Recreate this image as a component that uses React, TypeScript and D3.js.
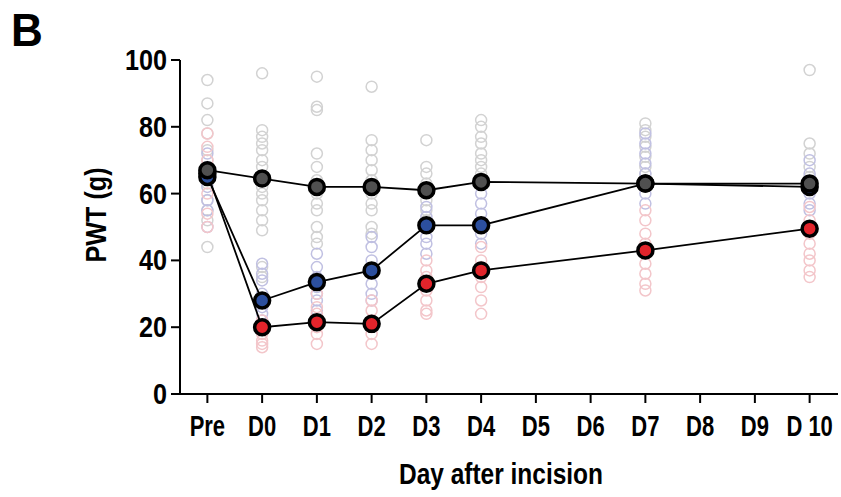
import * as d3 from "d3";

const dayLabels = ["Pre", "D0", "D1", "D2", "D3", "D4", "D5", "D6", "D7", "D8", "D9", "D10"];
const measuredDays = ["Pre", "D0", "D1", "D2", "D3", "D4", "D7", "D10"];
const yTicks = [0, 20, 40, 60, 80, 100];

// group means
const shamMean = [67, 64.5, 62, 62, 61, 63.5, 63, 63];
const blueMean = [65, 28, 33.5, 37, 50.5, 50.5, 63, 62];
const redMean = [66, 20, 21.5, 21, 33, 37, 43, 49.5];

// individual animals, one array per measured day
const shamPts = [
  [94, 87, 82, 78, 73, 70, 66, 63, 58, 55, 52, 44],
  [96, 79, 77, 75, 73, 70, 68, 65, 62, 60, 58, 55, 52, 49, 38, 35],
  [95, 86, 85, 72, 68, 64, 60, 57, 55, 50, 47, 45],
  [92, 76, 73, 70, 67, 64, 60, 57, 55, 50, 48],
  [76, 68, 66, 63, 60, 58, 55, 52],
  [82, 80, 77, 75, 72, 70, 68, 66, 63],
  [81, 79, 77, 74, 71, 68, 66],
  [97, 75, 72, 68, 65]
];
const bluePts = [
  [72, 68, 62, 58, 55, 50],
  [39, 36, 34, 30, 28, 26, 24, 22],
  [42, 38, 35, 32, 30, 28, 25],
  [47, 44, 40, 36, 33, 30, 28],
  [56, 53, 50, 47, 45, 42],
  [60, 57, 54, 51, 48, 45],
  [78, 75, 72, 69, 66, 63, 60, 57],
  [70, 66, 63, 60, 57, 55]
];
const redPts = [
  [78, 74, 70, 66, 60, 54, 50],
  [22, 20, 18, 16, 15, 14],
  [30, 26, 24, 20, 18, 15],
  [28, 25, 22, 20, 18, 15],
  [40, 37, 35, 31, 28, 25, 24],
  [44, 40, 38, 35, 32, 28, 24],
  [55, 52, 48, 45, 42, 39, 36, 33, 31],
  [56, 52, 48, 45, 42, 40, 37, 35]
];

const groups = [
  { mean: shamMean, pts: shamPts, fill: "#505050", light: "#d2d2d2" },
  { mean: blueMean, pts: bluePts, fill: "#2c4f9e", light: "#c0c0e2" },
  { mean: redMean, pts: redPts, fill: "#e3242b", light: "#f3c6ca" }
];

const font = "'Liberation Sans', Arial, sans-serif";

export default function App() {
  const width = 841;
  const height = 497;
  const left = 180;
  const right = 837;
  const top = 60;
  const bottom = 394;

  const x = d3.scalePoint<string>().domain(dayLabels).range([left, right]).padding(0.5);
  const y = d3.scaleLinear().domain([0, 100]).range([bottom, top]);

  const line = d3
    .line<number>()
    .x((d, i) => x(measuredDays[i]) as number)
    .y(d => y(d));

  const drawOrder = [2, 1, 0];

  return (
    <svg
      width={width}
      height={height}
      style={{ position: "absolute", left: 0, top: 0, background: "#fff" }}
      fontFamily={font}
      fontWeight="bold"
    >
      <text transform="translate(11,46) scale(1.05,1.1)" fontSize={42}>B</text>

      {/* individual animals */}
      {groups.map((g, gi) => (
        <g key={gi} fill="none" stroke={g.light} strokeWidth={1.5}>
          {g.pts.map((col, di) =>
            col.map((v, k) => (
              <circle key={di + "-" + k} cx={x(measuredDays[di])} cy={y(v)} r={5.5} />
            ))
          )}
        </g>
      ))}

      {/* axes */}
      <g stroke="#000" strokeWidth={2}>
        <line x1={left} x2={left} y1={top} y2={bottom + 1} />
        <line x1={left - 1} x2={right + 1} y1={bottom} y2={bottom} />
        {yTicks.map(t => (
          <line key={t} x1={left - 9} x2={left} y1={y(t)} y2={y(t)} />
        ))}
        {dayLabels.map(d => (
          <line key={d} x1={x(d)} x2={x(d)} y1={bottom} y2={bottom + 9} />
        ))}
      </g>
      <g fontSize={24} textAnchor="end">
        {yTicks.map(t => (
          <text key={t} transform={`translate(${left - 13},${y(t) + 10}) scale(1.05,1.25)`}>{t}</text>
        ))}
      </g>
      <g fontSize={22} textAnchor="middle">
        {dayLabels.map(d => (
          <text key={d} transform={`translate(${x(d)},${436}) scale(1,1.3)`}>{d === "D10" ? "D 10" : d}</text>
        ))}
      </g>
      <text transform="translate(501,484) scale(1.02,1.25)" fontSize={24} textAnchor="middle">
        Day after incision
      </text>
      <text
        transform={`translate(106, ${(top + bottom) / 2 - 12}) rotate(-90) scale(1.05,1.25)`}
        fontSize={24}
        textAnchor="middle"
      >
        PWT (g)
      </text>

      {/* mean lines */}
      {drawOrder.map(gi => (
        <path key={gi} d={line(groups[gi].mean) as string} fill="none" stroke="#000" strokeWidth={1.8} />
      ))}
      {drawOrder.map(gi => (
        <g key={gi} fill={groups[gi].fill} stroke="#000" strokeWidth={3.5}>
          {groups[gi].mean.map((v, i) => (
            <circle key={i} cx={x(measuredDays[i])} cy={y(v)} r={7.5} />
          ))}
        </g>
      ))}
    </svg>
  );
}
